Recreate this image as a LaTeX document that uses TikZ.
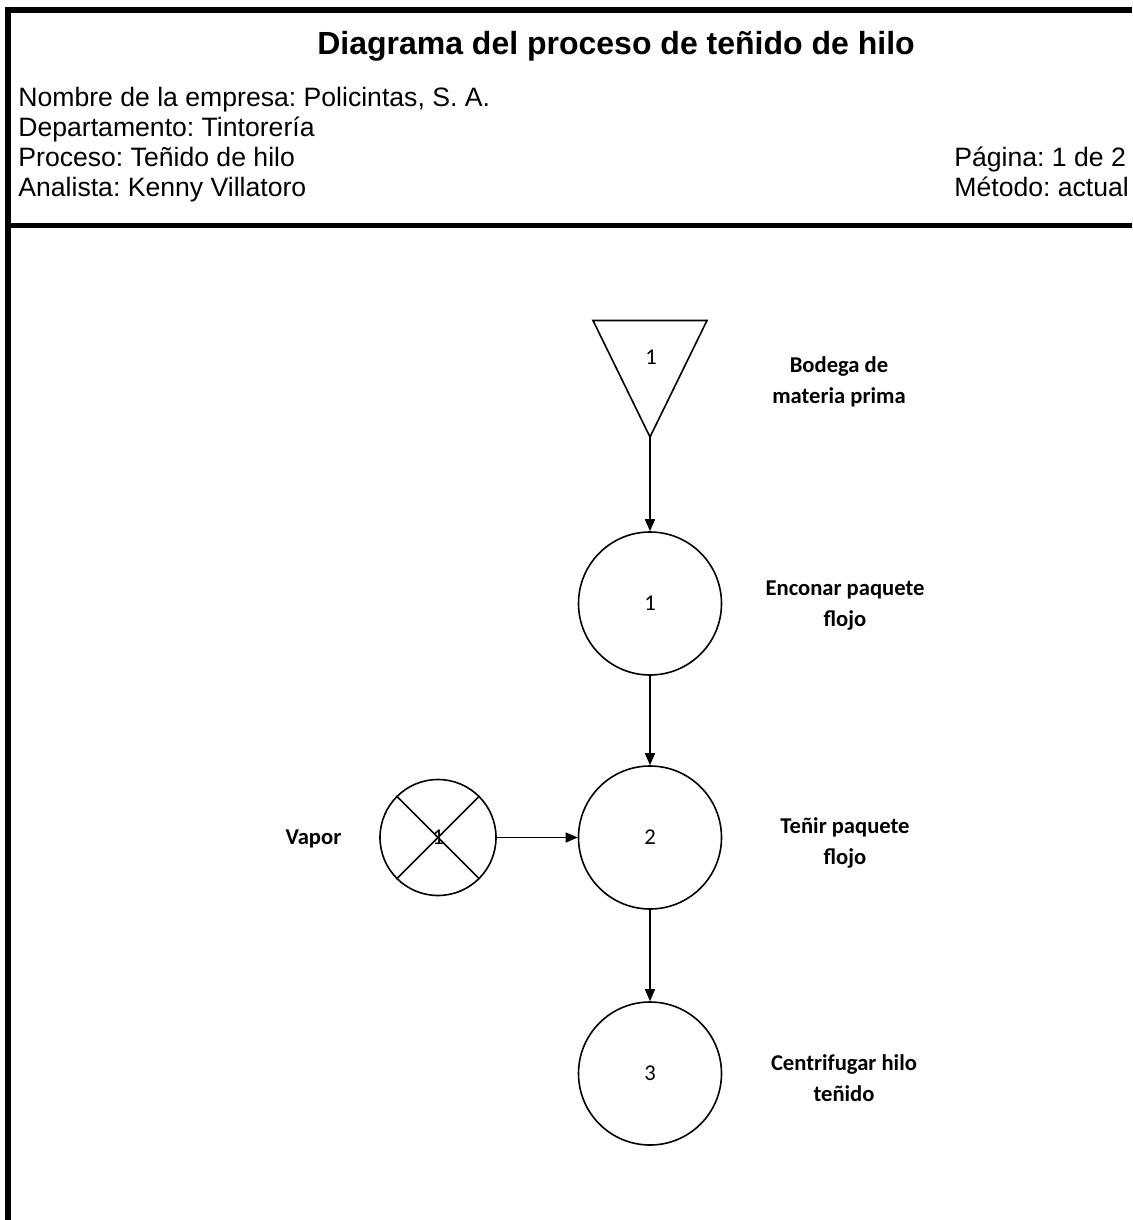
\documentclass[tikz,border=0pt]{standalone}
\usepackage{fontspec}
\setmainfont{Liberation Sans}
\newfontfamily\calibri{Carlito}
\usetikzlibrary{arrows.meta}
\frenchspacing
\begin{document}
\begin{tikzpicture}[x=0.5pt,y=-0.5pt,
  frame/.style={line width=2.7pt},
  shapeline/.style={line width=0.8pt},
  headtext/.style={anchor=base west, inner sep=0pt, font=\fontsize{13.3}{16}\selectfont},
  opcircle/.style={circle, draw, shapeline, minimum size=71.5pt, inner sep=0pt,
    font=\calibri\fontsize{11.3}{13}\selectfont},
  numtext/.style={inner sep=0pt, font=\calibri\fontsize{11.3}{13}\selectfont},
  steplabel/.style={align=center, inner sep=0pt,
    font=\calibri\bfseries\fontsize{11.3}{15.5}\selectfont},
  flow/.style={shapeline, -{Triangle[length=6pt,width=5pt]}}]
\useasboundingbox (0,0) rectangle (1132,1220);

% page frame and header rule
\draw[frame, line join=miter] (8,1220) -- (8,10) -- (1132,10);
\draw[frame] (8,225.5) -- (1132,225.5);

% header
\node[inner sep=0pt, font=\bfseries\fontsize{16}{19}\selectfont, anchor=base]
  (title) at (616,55) {Diagrama del proceso de teñido de hilo};
\node[headtext] (empresa) at (18,106) {Nombre de la empresa: Policintas, S. A.};
\node[headtext] (depto) at (18,136) {Departamento: Tintorería};
\node[headtext] (proceso) at (18,166) {Proceso: Teñido de hilo};
\node[headtext] (analista) at (18,196) {Analista: Kenny Villatoro};
\node[headtext] (pagina) at (954,166) {Página: 1 de 2};
\node[headtext] (metodo) at (954,196) {Método: actual};

% storage (inverted triangle)
\coordinate (tl) at (593,320.5);
\coordinate (tr) at (707,320.5);
\coordinate (tapex) at (650,437);
\draw[shapeline, line join=miter] (tl) -- (tr) -- (tapex) -- cycle;
\node[numtext] (alm) at (651,357) {1};
\node[steplabel] (lalm) at (839,382) {Bodega de\\materia prima};

% operations
\node[opcircle] (op1) at (650,603.5) {1};
\node[steplabel] (lop1) at (845,606) {Enconar paquete\\flojo};

\node[opcircle] (op2) at (650,837.5) {2};
\node[steplabel] (lop2) at (845,843) {Teñir paquete\\flojo};

\node[opcircle] (op3) at (650,1073.5) {3};
\node[steplabel] (lop3) at (844,1078) {Centrifugar hilo\\teñido};

% steam input
\node[circle, draw, shapeline, minimum size=58pt, inner sep=0pt] (vap) at (438,837.5) {};
\draw[shapeline] (vap.45) -- (vap.225);
\draw[shapeline] (vap.135) -- (vap.-45);
\node[numtext] (vapnum) at (vap.center) {1};
\node[steplabel] (lvap) at (313.5,839) {Vapor};

% flow connectors
\draw[flow] (tapex) -- (op1.north);
\draw[flow] (op1.south) -- (op2.north);
\draw[flow] (op2.south) -- (op3.north);
\draw[flow] (vap.east) -- (op2.west);
\end{tikzpicture}
\end{document}
